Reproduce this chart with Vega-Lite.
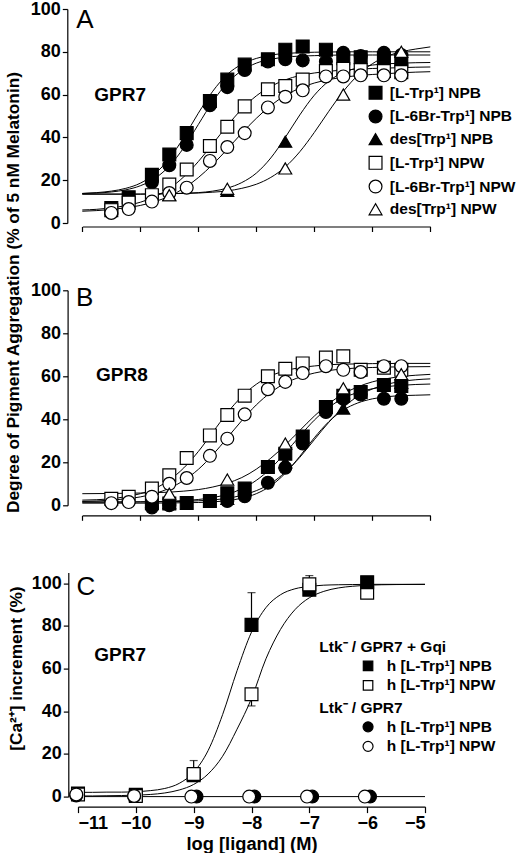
{
  "$schema": "https://vega.github.io/schema/vega-lite/v6.json",
  "padding": {"left": 4, "top": 0, "right": 0, "bottom": 0},
  "background": "white",
  "bounds": "flush",
  "spacing": 67.3,
  "config": {
    "view": {"stroke": null},
    "font": "Liberation Sans",
    "axis": {"labelFont": "Liberation Sans", "labelFontWeight": "bold", "labelFontSize": 18, "labelColor": "black", "titleFont": "Liberation Sans", "titleFontWeight": "bold", "titleFontSize": 17.3, "titleColor": "black", "domainColor": "black", "domainWidth": 1.2, "tickColor": "black", "tickWidth": 1.2, "grid": false, "labelOverlap": false},
    "legend": {"labelFont": "Liberation Sans", "labelFontWeight": "bold", "labelFontSize": 15.5, "labelColor": "black", "titleFont": "Liberation Sans", "titleFontWeight": "bold", "titleFontSize": 15.5, "titleColor": "black", "symbolStrokeColor": "black", "symbolStrokeWidth": 1.2, "symbolSize": 165, "padding": 0, "labelLimit": 300, "titleLimit": 300}
  },
  "datasets": {
    "ptsA": [
      {"s": "[L-Trp¹] NPB", "x": -11, "y": 7}, {"s": "[L-Trp¹] NPB", "x": -10.7, "y": 12}, {"s": "[L-Trp¹] NPB", "x": -10.3, "y": 22.5}, {"s": "[L-Trp¹] NPB", "x": -10, "y": 32}, {"s": "[L-Trp¹] NPB", "x": -9.7, "y": 42}, {"s": "[L-Trp¹] NPB", "x": -9.3, "y": 57}, {"s": "[L-Trp¹] NPB", "x": -9, "y": 67}, {"s": "[L-Trp¹] NPB", "x": -8.7, "y": 74}, {"s": "[L-Trp¹] NPB", "x": -8.3, "y": 76.5}, {"s": "[L-Trp¹] NPB", "x": -8, "y": 81}, {"s": "[L-Trp¹] NPB", "x": -7.7, "y": 82.5}, {"s": "[L-Trp¹] NPB", "x": -7.3, "y": 81}, {"s": "[L-Trp¹] NPB", "x": -7, "y": 77}, {"s": "[L-Trp¹] NPB", "x": -6.7, "y": 77.5}, {"s": "[L-Trp¹] NPB", "x": -6.3, "y": 77}, {"s": "[L-Trp¹] NPB", "x": -6, "y": 76},
      {"s": "[L-6Br-Trp¹] NPB", "x": -10.3, "y": 19}, {"s": "[L-6Br-Trp¹] NPB", "x": -10, "y": 27}, {"s": "[L-6Br-Trp¹] NPB", "x": -9.7, "y": 36.5}, {"s": "[L-6Br-Trp¹] NPB", "x": -9.3, "y": 55}, {"s": "[L-6Br-Trp¹] NPB", "x": -9, "y": 63.5}, {"s": "[L-6Br-Trp¹] NPB", "x": -8.7, "y": 71.5}, {"s": "[L-6Br-Trp¹] NPB", "x": -8.3, "y": 75.5}, {"s": "[L-6Br-Trp¹] NPB", "x": -8, "y": 76.5}, {"s": "[L-6Br-Trp¹] NPB", "x": -7.7, "y": 76}, {"s": "[L-6Br-Trp¹] NPB", "x": -7.3, "y": 75.5}, {"s": "[L-6Br-Trp¹] NPB", "x": -7, "y": 79.5}, {"s": "[L-6Br-Trp¹] NPB", "x": -6.7, "y": 78}, {"s": "[L-6Br-Trp¹] NPB", "x": -6.3, "y": 79.5}, {"s": "[L-6Br-Trp¹] NPB", "x": -6, "y": 78.5},
      {"s": "des[Trp¹] NPB", "x": -10, "y": 13}, {"s": "des[Trp¹] NPB", "x": -9, "y": 15}, {"s": "des[Trp¹] NPB", "x": -8, "y": 38}, {"s": "des[Trp¹] NPB", "x": -7, "y": 74}, {"s": "des[Trp¹] NPB", "x": -6, "y": 77},
      {"s": "[L-Trp¹] NPW", "x": -11, "y": 6}, {"s": "[L-Trp¹] NPW", "x": -10.7, "y": 9.5}, {"s": "[L-Trp¹] NPW", "x": -10.3, "y": 13}, {"s": "[L-Trp¹] NPW", "x": -10, "y": 18}, {"s": "[L-Trp¹] NPW", "x": -9.7, "y": 25}, {"s": "[L-Trp¹] NPW", "x": -9.3, "y": 36}, {"s": "[L-Trp¹] NPW", "x": -9, "y": 45}, {"s": "[L-Trp¹] NPW", "x": -8.7, "y": 54.5}, {"s": "[L-Trp¹] NPW", "x": -8.3, "y": 62.5}, {"s": "[L-Trp¹] NPW", "x": -8, "y": 64}, {"s": "[L-Trp¹] NPW", "x": -7.7, "y": 67}, {"s": "[L-Trp¹] NPW", "x": -7.3, "y": 71}, {"s": "[L-Trp¹] NPW", "x": -7, "y": 72}, {"s": "[L-Trp¹] NPW", "x": -6.7, "y": 71.5}, {"s": "[L-Trp¹] NPW", "x": -6.3, "y": 71}, {"s": "[L-Trp¹] NPW", "x": -6, "y": 70.5},
      {"s": "[L-6Br-Trp¹] NPW", "x": -11, "y": 4.7}, {"s": "[L-6Br-Trp¹] NPW", "x": -10.7, "y": 6.5}, {"s": "[L-6Br-Trp¹] NPW", "x": -10.3, "y": 10}, {"s": "[L-6Br-Trp¹] NPW", "x": -10, "y": 14}, {"s": "[L-6Br-Trp¹] NPW", "x": -9.7, "y": 16.5}, {"s": "[L-6Br-Trp¹] NPW", "x": -9.3, "y": 29}, {"s": "[L-6Br-Trp¹] NPW", "x": -9, "y": 35.5}, {"s": "[L-6Br-Trp¹] NPW", "x": -8.7, "y": 42}, {"s": "[L-6Br-Trp¹] NPW", "x": -8.3, "y": 54}, {"s": "[L-6Br-Trp¹] NPW", "x": -8, "y": 59}, {"s": "[L-6Br-Trp¹] NPW", "x": -7.7, "y": 62}, {"s": "[L-6Br-Trp¹] NPW", "x": -7.3, "y": 68.5}, {"s": "[L-6Br-Trp¹] NPW", "x": -7, "y": 68.5}, {"s": "[L-6Br-Trp¹] NPW", "x": -6.7, "y": 69}, {"s": "[L-6Br-Trp¹] NPW", "x": -6.3, "y": 69}, {"s": "[L-6Br-Trp¹] NPW", "x": -6, "y": 69},
      {"s": "des[Trp¹] NPW", "x": -10, "y": 13}, {"s": "des[Trp¹] NPW", "x": -9, "y": 16}, {"s": "des[Trp¹] NPW", "x": -8, "y": 25.5}, {"s": "des[Trp¹] NPW", "x": -7, "y": 60}, {"s": "des[Trp¹] NPW", "x": -6, "y": 80}
    ],
    "ptsB": [
      {"s": "[L-Trp¹] NPB", "x": -10.3, "y": 1}, {"s": "[L-Trp¹] NPB", "x": -10, "y": 0.8}, {"s": "[L-Trp¹] NPB", "x": -9.7, "y": 1.1}, {"s": "[L-Trp¹] NPB", "x": -9.3, "y": 2}, {"s": "[L-Trp¹] NPB", "x": -9, "y": 5.6}, {"s": "[L-Trp¹] NPB", "x": -8.7, "y": 7.8}, {"s": "[L-Trp¹] NPB", "x": -8.3, "y": 17.8}, {"s": "[L-Trp¹] NPB", "x": -8, "y": 24}, {"s": "[L-Trp¹] NPB", "x": -7.7, "y": 32}, {"s": "[L-Trp¹] NPB", "x": -7.3, "y": 45.7}, {"s": "[L-Trp¹] NPB", "x": -7, "y": 51}, {"s": "[L-Trp¹] NPB", "x": -6.7, "y": 52.7}, {"s": "[L-Trp¹] NPB", "x": -6.3, "y": 56}, {"s": "[L-Trp¹] NPB", "x": -6, "y": 55.5},
      {"s": "[L-6Br-Trp¹] NPB", "x": -10.3, "y": -1}, {"s": "[L-6Br-Trp¹] NPB", "x": -10, "y": 0}, {"s": "[L-6Br-Trp¹] NPB", "x": -9, "y": 2}, {"s": "[L-6Br-Trp¹] NPB", "x": -8.7, "y": 4.2}, {"s": "[L-6Br-Trp¹] NPB", "x": -8.3, "y": 10.5}, {"s": "[L-6Br-Trp¹] NPB", "x": -8, "y": 17.5}, {"s": "[L-6Br-Trp¹] NPB", "x": -7.7, "y": 28.7}, {"s": "[L-6Br-Trp¹] NPB", "x": -7.3, "y": 43.4}, {"s": "[L-6Br-Trp¹] NPB", "x": -7, "y": 49.6}, {"s": "[L-6Br-Trp¹] NPB", "x": -6.7, "y": 51.5}, {"s": "[L-6Br-Trp¹] NPB", "x": -6.3, "y": 49.6}, {"s": "[L-6Br-Trp¹] NPB", "x": -6, "y": 49.6},
      {"s": "des[Trp¹] NPB", "x": -10, "y": 1}, {"s": "des[Trp¹] NPB", "x": -9, "y": 3}, {"s": "des[Trp¹] NPB", "x": -8, "y": 20}, {"s": "des[Trp¹] NPB", "x": -7, "y": 45}, {"s": "des[Trp¹] NPB", "x": -6, "y": 57},
      {"s": "[L-Trp¹] NPW", "x": -11, "y": 3}, {"s": "[L-Trp¹] NPW", "x": -10.7, "y": 4}, {"s": "[L-Trp¹] NPW", "x": -10.3, "y": 7.8}, {"s": "[L-Trp¹] NPW", "x": -10, "y": 14}, {"s": "[L-Trp¹] NPW", "x": -9.7, "y": 22}, {"s": "[L-Trp¹] NPW", "x": -9.3, "y": 32.5}, {"s": "[L-Trp¹] NPW", "x": -9, "y": 42}, {"s": "[L-Trp¹] NPW", "x": -8.7, "y": 51}, {"s": "[L-Trp¹] NPW", "x": -8.3, "y": 60}, {"s": "[L-Trp¹] NPW", "x": -8, "y": 63.5}, {"s": "[L-Trp¹] NPW", "x": -7.7, "y": 66}, {"s": "[L-Trp¹] NPW", "x": -7.3, "y": 68.7}, {"s": "[L-Trp¹] NPW", "x": -7, "y": 69.3}, {"s": "[L-Trp¹] NPW", "x": -6.7, "y": 63}, {"s": "[L-Trp¹] NPW", "x": -6.3, "y": 64}, {"s": "[L-Trp¹] NPW", "x": -6, "y": 63},
      {"s": "[L-6Br-Trp¹] NPW", "x": -11, "y": 1}, {"s": "[L-6Br-Trp¹] NPW", "x": -10.7, "y": 1.5}, {"s": "[L-6Br-Trp¹] NPW", "x": -10.3, "y": 4}, {"s": "[L-6Br-Trp¹] NPW", "x": -10, "y": 10}, {"s": "[L-6Br-Trp¹] NPW", "x": -9.7, "y": 12.7}, {"s": "[L-6Br-Trp¹] NPW", "x": -9.3, "y": 23}, {"s": "[L-6Br-Trp¹] NPW", "x": -9, "y": 31}, {"s": "[L-6Br-Trp¹] NPW", "x": -8.7, "y": 42.3}, {"s": "[L-6Br-Trp¹] NPW", "x": -8.3, "y": 54}, {"s": "[L-6Br-Trp¹] NPW", "x": -8, "y": 57.4}, {"s": "[L-6Br-Trp¹] NPW", "x": -7.7, "y": 61.5}, {"s": "[L-6Br-Trp¹] NPW", "x": -7.3, "y": 64.7}, {"s": "[L-6Br-Trp¹] NPW", "x": -7, "y": 63}, {"s": "[L-6Br-Trp¹] NPW", "x": -6.7, "y": 62}, {"s": "[L-6Br-Trp¹] NPW", "x": -6.3, "y": 64.7}, {"s": "[L-6Br-Trp¹] NPW", "x": -6, "y": 64.7},
      {"s": "des[Trp¹] NPW", "x": -10, "y": 5.4}, {"s": "des[Trp¹] NPW", "x": -9, "y": 12}, {"s": "des[Trp¹] NPW", "x": -8, "y": 28.7}, {"s": "des[Trp¹] NPW", "x": -7, "y": 54.4}, {"s": "des[Trp¹] NPW", "x": -6, "y": 61}
    ],
    "curA": [
      {"c": "a1", "x": -11.5, "y": 13.8}, {"c": "a1", "x": -11.25, "y": 14.2}, {"c": "a1", "x": -11, "y": 14.9}, {"c": "a1", "x": -10.75, "y": 16.2}, {"c": "a1", "x": -10.5, "y": 18.6}, {"c": "a1", "x": -10.25, "y": 23}, {"c": "a1", "x": -10, "y": 30.1}, {"c": "a1", "x": -9.75, "y": 40}, {"c": "a1", "x": -9.5, "y": 51.3}, {"c": "a1", "x": -9.25, "y": 61.6}, {"c": "a1", "x": -9, "y": 69.4}, {"c": "a1", "x": -8.75, "y": 74.2}, {"c": "a1", "x": -8.5, "y": 76.9}, {"c": "a1", "x": -8.25, "y": 78.5}, {"c": "a1", "x": -8, "y": 79.2}, {"c": "a1", "x": -7.75, "y": 79.6}, {"c": "a1", "x": -7.5, "y": 79.8}, {"c": "a1", "x": -7.25, "y": 79.9}, {"c": "a1", "x": -7, "y": 80}, {"c": "a1", "x": -6.5, "y": 80}, {"c": "a1", "x": -6, "y": 80}, {"c": "a1", "x": -5.5, "y": 80},
      {"c": "a2", "x": -11.5, "y": 13.8}, {"c": "a2", "x": -11.25, "y": 14}, {"c": "a2", "x": -11, "y": 14.5}, {"c": "a2", "x": -10.75, "y": 15.5}, {"c": "a2", "x": -10.5, "y": 17.4}, {"c": "a2", "x": -10.25, "y": 20.8}, {"c": "a2", "x": -10, "y": 26.6}, {"c": "a2", "x": -9.75, "y": 35.2}, {"c": "a2", "x": -9.5, "y": 46}, {"c": "a2", "x": -9.25, "y": 56.8}, {"c": "a2", "x": -9, "y": 65.4}, {"c": "a2", "x": -8.75, "y": 71.2}, {"c": "a2", "x": -8.5, "y": 74.7}, {"c": "a2", "x": -8.25, "y": 76.5}, {"c": "a2", "x": -8, "y": 77.5}, {"c": "a2", "x": -7.75, "y": 78}, {"c": "a2", "x": -7.5, "y": 78.2}, {"c": "a2", "x": -7.25, "y": 78.4}, {"c": "a2", "x": -7, "y": 78.5}, {"c": "a2", "x": -6.5, "y": 78.5}, {"c": "a2", "x": -6, "y": 78.5}, {"c": "a2", "x": -5.5, "y": 78.5},
      {"c": "a3", "x": -11.5, "y": 13.5}, {"c": "a3", "x": -10.5, "y": 13.5}, {"c": "a3", "x": -10.25, "y": 13.6}, {"c": "a3", "x": -10, "y": 13.7}, {"c": "a3", "x": -9.75, "y": 13.9}, {"c": "a3", "x": -9.5, "y": 14.2}, {"c": "a3", "x": -9.25, "y": 14.9}, {"c": "a3", "x": -9, "y": 16.3}, {"c": "a3", "x": -8.75, "y": 18.9}, {"c": "a3", "x": -8.5, "y": 23.3}, {"c": "a3", "x": -8.25, "y": 30.4}, {"c": "a3", "x": -8, "y": 40}, {"c": "a3", "x": -7.75, "y": 50.5}, {"c": "a3", "x": -7.5, "y": 59.7}, {"c": "a3", "x": -7.25, "y": 66.3}, {"c": "a3", "x": -7, "y": 70.3}, {"c": "a3", "x": -6.75, "y": 72.5}, {"c": "a3", "x": -6.5, "y": 73.8}, {"c": "a3", "x": -6.25, "y": 74.4}, {"c": "a3", "x": -6, "y": 74.7}, {"c": "a3", "x": -5.75, "y": 74.9}, {"c": "a3", "x": -5.5, "y": 75},
      {"c": "a4", "x": -11.5, "y": 6.1}, {"c": "a4", "x": -11.25, "y": 6.4}, {"c": "a4", "x": -11, "y": 7.1}, {"c": "a4", "x": -10.75, "y": 8.1}, {"c": "a4", "x": -10.5, "y": 9.7}, {"c": "a4", "x": -10.25, "y": 12.3}, {"c": "a4", "x": -10, "y": 16.1}, {"c": "a4", "x": -9.75, "y": 21.6}, {"c": "a4", "x": -9.5, "y": 28.7}, {"c": "a4", "x": -9.25, "y": 37}, {"c": "a4", "x": -9, "y": 45.5}, {"c": "a4", "x": -8.75, "y": 53.2}, {"c": "a4", "x": -8.5, "y": 59.4}, {"c": "a4", "x": -8.25, "y": 63.8}, {"c": "a4", "x": -8, "y": 66.9}, {"c": "a4", "x": -7.75, "y": 68.9}, {"c": "a4", "x": -7.5, "y": 70.1}, {"c": "a4", "x": -7.25, "y": 70.9}, {"c": "a4", "x": -7, "y": 71.5}, {"c": "a4", "x": -6.75, "y": 71.9}, {"c": "a4", "x": -6.5, "y": 72.2}, {"c": "a4", "x": -6.25, "y": 72.4}, {"c": "a4", "x": -6, "y": 72.6}, {"c": "a4", "x": -5.75, "y": 72.8}, {"c": "a4", "x": -5.5, "y": 72.9},
      {"c": "a5", "x": -11.5, "y": 5.5}, {"c": "a5", "x": -11.25, "y": 5.8}, {"c": "a5", "x": -11, "y": 6.3}, {"c": "a5", "x": -10.75, "y": 7.1}, {"c": "a5", "x": -10.5, "y": 8.2}, {"c": "a5", "x": -10.25, "y": 10}, {"c": "a5", "x": -10, "y": 12.5}, {"c": "a5", "x": -9.75, "y": 16.2}, {"c": "a5", "x": -9.5, "y": 21.2}, {"c": "a5", "x": -9.25, "y": 27.4}, {"c": "a5", "x": -9, "y": 34.5}, {"c": "a5", "x": -8.75, "y": 42}, {"c": "a5", "x": -8.5, "y": 48.9}, {"c": "a5", "x": -8.25, "y": 54.9}, {"c": "a5", "x": -8, "y": 59.6}, {"c": "a5", "x": -7.75, "y": 63}, {"c": "a5", "x": -7.5, "y": 65.4}, {"c": "a5", "x": -7.25, "y": 67}, {"c": "a5", "x": -7, "y": 68.1}, {"c": "a5", "x": -6.75, "y": 68.9}, {"c": "a5", "x": -6.5, "y": 69.4}, {"c": "a5", "x": -6.25, "y": 69.8}, {"c": "a5", "x": -6, "y": 70.2}, {"c": "a5", "x": -5.75, "y": 70.5}, {"c": "a5", "x": -5.5, "y": 70.7},
      {"c": "a6", "x": -11.5, "y": 13.5}, {"c": "a6", "x": -10.5, "y": 13.5}, {"c": "a6", "x": -10.25, "y": 13.6}, {"c": "a6", "x": -10, "y": 13.7}, {"c": "a6", "x": -9.75, "y": 13.8}, {"c": "a6", "x": -9.5, "y": 14}, {"c": "a6", "x": -9.25, "y": 14.4}, {"c": "a6", "x": -9, "y": 15}, {"c": "a6", "x": -8.75, "y": 16.2}, {"c": "a6", "x": -8.5, "y": 18.1}, {"c": "a6", "x": -8.25, "y": 21.3}, {"c": "a6", "x": -8, "y": 26.2}, {"c": "a6", "x": -7.75, "y": 33.3}, {"c": "a6", "x": -7.5, "y": 42.3}, {"c": "a6", "x": -7.25, "y": 52.2}, {"c": "a6", "x": -7, "y": 61.5}, {"c": "a6", "x": -6.75, "y": 69}, {"c": "a6", "x": -6.5, "y": 74.4}, {"c": "a6", "x": -6.25, "y": 77.9}, {"c": "a6", "x": -6, "y": 80}, {"c": "a6", "x": -5.75, "y": 81.3}, {"c": "a6", "x": -5.5, "y": 82.3}
    ],
    "curB": [
      {"c": "b1", "x": -11.5, "y": 2.4}, {"c": "b1", "x": -11.25, "y": 2.6}, {"c": "b1", "x": -11, "y": 3.1}, {"c": "b1", "x": -10.75, "y": 4}, {"c": "b1", "x": -10.5, "y": 5.4}, {"c": "b1", "x": -10.25, "y": 7.8}, {"c": "b1", "x": -10, "y": 11.7}, {"c": "b1", "x": -9.75, "y": 17.4}, {"c": "b1", "x": -9.5, "y": 25}, {"c": "b1", "x": -9.25, "y": 34}, {"c": "b1", "x": -9, "y": 43}, {"c": "b1", "x": -8.75, "y": 50.6}, {"c": "b1", "x": -8.5, "y": 56.3}, {"c": "b1", "x": -8.25, "y": 60.2}, {"c": "b1", "x": -8, "y": 62.6}, {"c": "b1", "x": -7.75, "y": 64}, {"c": "b1", "x": -7.5, "y": 64.8}, {"c": "b1", "x": -7.25, "y": 65.4}, {"c": "b1", "x": -7, "y": 65.6}, {"c": "b1", "x": -6.75, "y": 65.8}, {"c": "b1", "x": -6.5, "y": 65.9}, {"c": "b1", "x": -6, "y": 66}, {"c": "b1", "x": -5.5, "y": 66},
      {"c": "b2", "x": -11.5, "y": 1.8}, {"c": "b2", "x": -11.25, "y": 2}, {"c": "b2", "x": -11, "y": 2.4}, {"c": "b2", "x": -10.75, "y": 3}, {"c": "b2", "x": -10.5, "y": 3.9}, {"c": "b2", "x": -10.25, "y": 5.5}, {"c": "b2", "x": -10, "y": 7.9}, {"c": "b2", "x": -9.75, "y": 11.6}, {"c": "b2", "x": -9.5, "y": 16.7}, {"c": "b2", "x": -9.25, "y": 23.5}, {"c": "b2", "x": -9, "y": 31.4}, {"c": "b2", "x": -8.75, "y": 39.4}, {"c": "b2", "x": -8.5, "y": 46.7}, {"c": "b2", "x": -8.25, "y": 52.5}, {"c": "b2", "x": -8, "y": 56.8}, {"c": "b2", "x": -7.75, "y": 59.6}, {"c": "b2", "x": -7.5, "y": 61.5}, {"c": "b2", "x": -7.25, "y": 62.7}, {"c": "b2", "x": -7, "y": 63.4}, {"c": "b2", "x": -6.75, "y": 63.9}, {"c": "b2", "x": -6.5, "y": 64.1}, {"c": "b2", "x": -6.25, "y": 64.3}, {"c": "b2", "x": -6, "y": 64.4}, {"c": "b2", "x": -5.5, "y": 64.5},
      {"c": "b3", "x": -11.5, "y": 5.4}, {"c": "b3", "x": -11, "y": 5.5}, {"c": "b3", "x": -10.5, "y": 5.7}, {"c": "b3", "x": -10.25, "y": 5.9}, {"c": "b3", "x": -10, "y": 6.1}, {"c": "b3", "x": -9.75, "y": 6.6}, {"c": "b3", "x": -9.5, "y": 7.3}, {"c": "b3", "x": -9.25, "y": 8.5}, {"c": "b3", "x": -9, "y": 10.3}, {"c": "b3", "x": -8.75, "y": 12.9}, {"c": "b3", "x": -8.5, "y": 16.8}, {"c": "b3", "x": -8.25, "y": 21.9}, {"c": "b3", "x": -8, "y": 28}, {"c": "b3", "x": -7.75, "y": 34.8}, {"c": "b3", "x": -7.5, "y": 41.5}, {"c": "b3", "x": -7.25, "y": 47.3}, {"c": "b3", "x": -7, "y": 51.8}, {"c": "b3", "x": -6.75, "y": 55.1}, {"c": "b3", "x": -6.5, "y": 57.4}, {"c": "b3", "x": -6.25, "y": 58.9}, {"c": "b3", "x": -6, "y": 59.9}, {"c": "b3", "x": -5.75, "y": 60.5}, {"c": "b3", "x": -5.5, "y": 60.9},
      {"c": "b4", "x": -11.5, "y": 1.5}, {"c": "b4", "x": -10.75, "y": 1.5}, {"c": "b4", "x": -10.5, "y": 1.6}, {"c": "b4", "x": -10.25, "y": 1.6}, {"c": "b4", "x": -10, "y": 1.7}, {"c": "b4", "x": -9.75, "y": 1.8}, {"c": "b4", "x": -9.5, "y": 2.1}, {"c": "b4", "x": -9.25, "y": 2.5}, {"c": "b4", "x": -9, "y": 3.3}, {"c": "b4", "x": -8.75, "y": 4.6}, {"c": "b4", "x": -8.5, "y": 6.8}, {"c": "b4", "x": -8.25, "y": 10.2}, {"c": "b4", "x": -8, "y": 15.4}, {"c": "b4", "x": -7.75, "y": 22.3}, {"c": "b4", "x": -7.5, "y": 30.5}, {"c": "b4", "x": -7.25, "y": 38.6}, {"c": "b4", "x": -7, "y": 45.5}, {"c": "b4", "x": -6.75, "y": 50.7}, {"c": "b4", "x": -6.5, "y": 54.1}, {"c": "b4", "x": -6.25, "y": 56.3}, {"c": "b4", "x": -6, "y": 57.6}, {"c": "b4", "x": -5.75, "y": 58.4}, {"c": "b4", "x": -5.5, "y": 58.8},
      {"c": "b5", "x": -11.5, "y": 1.5}, {"c": "b5", "x": -11, "y": 1.5}, {"c": "b5", "x": -10.75, "y": 1.6}, {"c": "b5", "x": -10.5, "y": 1.6}, {"c": "b5", "x": -10.25, "y": 1.7}, {"c": "b5", "x": -10, "y": 1.9}, {"c": "b5", "x": -9.75, "y": 2.2}, {"c": "b5", "x": -9.5, "y": 2.7}, {"c": "b5", "x": -9.25, "y": 3.6}, {"c": "b5", "x": -9, "y": 5.1}, {"c": "b5", "x": -8.75, "y": 7.7}, {"c": "b5", "x": -8.5, "y": 11.6}, {"c": "b5", "x": -8.25, "y": 17.2}, {"c": "b5", "x": -8, "y": 24.4}, {"c": "b5", "x": -7.75, "y": 32.2}, {"c": "b5", "x": -7.5, "y": 39.6}, {"c": "b5", "x": -7.25, "y": 45.5}, {"c": "b5", "x": -7, "y": 49.8}, {"c": "b5", "x": -6.75, "y": 52.5}, {"c": "b5", "x": -6.5, "y": 54.2}, {"c": "b5", "x": -6.25, "y": 55.2}, {"c": "b5", "x": -6, "y": 55.8}, {"c": "b5", "x": -5.75, "y": 56.2}, {"c": "b5", "x": -5.5, "y": 56.4},
      {"c": "b6", "x": -11.5, "y": 1}, {"c": "b6", "x": -10.25, "y": 1}, {"c": "b6", "x": -10, "y": 1.1}, {"c": "b6", "x": -9.75, "y": 1.2}, {"c": "b6", "x": -9.5, "y": 1.3}, {"c": "b6", "x": -9.25, "y": 1.6}, {"c": "b6", "x": -9, "y": 2.2}, {"c": "b6", "x": -8.75, "y": 3.3}, {"c": "b6", "x": -8.5, "y": 5.4}, {"c": "b6", "x": -8.25, "y": 9.1}, {"c": "b6", "x": -8, "y": 14.9}, {"c": "b6", "x": -7.75, "y": 22.8}, {"c": "b6", "x": -7.5, "y": 31.4}, {"c": "b6", "x": -7.25, "y": 38.9}, {"c": "b6", "x": -7, "y": 44.3}, {"c": "b6", "x": -6.75, "y": 47.6}, {"c": "b6", "x": -6.5, "y": 49.5}, {"c": "b6", "x": -6.25, "y": 50.5}, {"c": "b6", "x": -6, "y": 51}, {"c": "b6", "x": -5.75, "y": 51.2}, {"c": "b6", "x": -5.5, "y": 51.4}
    ],
    "curC": [
      {"c": "c1", "x": -11, "y": 2}, {"c": "c1", "x": -10.75, "y": 2}, {"c": "c1", "x": -10.5, "y": 2.1}, {"c": "c1", "x": -10.25, "y": 2.1}, {"c": "c1", "x": -10, "y": 2.3}, {"c": "c1", "x": -9.75, "y": 2.8}, {"c": "c1", "x": -9.5, "y": 3.8}, {"c": "c1", "x": -9.25, "y": 6.2}, {"c": "c1", "x": -9, "y": 11.4}, {"c": "c1", "x": -8.75, "y": 21.6}, {"c": "c1", "x": -8.5, "y": 38.4}, {"c": "c1", "x": -8.25, "y": 59}, {"c": "c1", "x": -8, "y": 77.1}, {"c": "c1", "x": -7.75, "y": 88.6}, {"c": "c1", "x": -7.5, "y": 94.6}, {"c": "c1", "x": -7.25, "y": 97.4}, {"c": "c1", "x": -7, "y": 98.5}, {"c": "c1", "x": -6.75, "y": 99.1}, {"c": "c1", "x": -6.5, "y": 99.3}, {"c": "c1", "x": -6.25, "y": 99.4}, {"c": "c1", "x": -6, "y": 99.5}, {"c": "c1", "x": -5, "y": 99.5},
      {"c": "c2", "x": -11, "y": 0.3}, {"c": "c2", "x": -10.75, "y": 0.3}, {"c": "c2", "x": -10.5, "y": 0.4}, {"c": "c2", "x": -10.25, "y": 0.5}, {"c": "c2", "x": -10, "y": 0.7}, {"c": "c2", "x": -9.75, "y": 1}, {"c": "c2", "x": -9.5, "y": 1.7}, {"c": "c2", "x": -9.25, "y": 3.1}, {"c": "c2", "x": -9, "y": 5.7}, {"c": "c2", "x": -8.75, "y": 10.6}, {"c": "c2", "x": -8.5, "y": 18.9}, {"c": "c2", "x": -8.25, "y": 31.6}, {"c": "c2", "x": -8, "y": 46}, {"c": "c2", "x": -7.75, "y": 64.6}, {"c": "c2", "x": -7.5, "y": 78.3}, {"c": "c2", "x": -7.25, "y": 87.6}, {"c": "c2", "x": -7, "y": 93.2}, {"c": "c2", "x": -6.75, "y": 96.2}, {"c": "c2", "x": -6.5, "y": 97.8}, {"c": "c2", "x": -6.25, "y": 98.6}, {"c": "c2", "x": -6, "y": 99.1}, {"c": "c2", "x": -5.75, "y": 99.3}, {"c": "c2", "x": -5.5, "y": 99.4}, {"c": "c2", "x": -5, "y": 99.5},
      {"c": "c3", "x": -11, "y": 0}, {"c": "c3", "x": -5, "y": 0}
    ],
    "errC": [
      {"x": -9, "y": 10.6, "end": 16.9},
      {"x": -8, "y": 80.5, "end": 95.6},
      {"x": -8, "y": 48, "end": 42.5},
      {"x": -7, "y": 99.5, "end": 103.6}
    ],
    "ptsC": [
      {"g": "Gqi", "p": "h [L-Trp¹] NPB", "x": -11, "y": 1.5},
      {"g": "Gqi", "p": "h [L-Trp¹] NPB", "x": -10, "y": 0.8},
      {"g": "Gqi", "p": "h [L-Trp¹] NPB", "x": -9, "y": 10},
      {"g": "Gqi", "p": "h [L-Trp¹] NPB", "x": -8, "y": 80.5},
      {"g": "Gqi", "p": "h [L-Trp¹] NPB", "x": -7, "y": 97},
      {"g": "Gqi", "p": "h [L-Trp¹] NPW", "x": -11, "y": 1},
      {"g": "Gqi", "p": "h [L-Trp¹] NPW", "x": -10, "y": 0.3},
      {"g": "Gqi", "p": "h [L-Trp¹] NPW", "x": -9, "y": 10.6},
      {"g": "Gqi", "p": "h [L-Trp¹] NPW", "x": -8, "y": 48},
      {"g": "Gqi", "p": "h [L-Trp¹] NPW", "x": -7, "y": 99.5},
      {"g": "Gqi", "p": "h [L-Trp¹] NPW", "x": -6, "y": 95.6},
      {"g": "Gqi", "p": "h [L-Trp¹] NPB", "x": -6, "y": 100.5},
      {"g": "GPR7", "p": "h [L-Trp¹] NPB", "x": -11.03, "y": 0.5},
      {"g": "GPR7", "p": "h [L-Trp¹] NPB", "x": -10.03, "y": 0.3},
      {"g": "GPR7", "p": "h [L-Trp¹] NPB", "x": -8.95, "y": 0},
      {"g": "GPR7", "p": "h [L-Trp¹] NPB", "x": -7.95, "y": 0},
      {"g": "GPR7", "p": "h [L-Trp¹] NPB", "x": -6.95, "y": 0},
      {"g": "GPR7", "p": "h [L-Trp¹] NPB", "x": -5.95, "y": 0},
      {"g": "GPR7", "p": "h [L-Trp¹] NPW", "x": -11.03, "y": 1},
      {"g": "GPR7", "p": "h [L-Trp¹] NPW", "x": -10.03, "y": 0.3},
      {"g": "GPR7", "p": "h [L-Trp¹] NPW", "x": -9.04, "y": 0},
      {"g": "GPR7", "p": "h [L-Trp¹] NPW", "x": -8.04, "y": 0},
      {"g": "GPR7", "p": "h [L-Trp¹] NPW", "x": -7.04, "y": 0},
      {"g": "GPR7", "p": "h [L-Trp¹] NPW", "x": -6.04, "y": 0}
    ]
  },
  "vconcat": [
    {
      "width": 352,
      "height": 214,
      "layer": [
        {
          "data": {"name": "curA"},
          "mark": {"type": "line", "color": "black", "strokeWidth": 1, "interpolate": "monotone"},
          "encoding": {
            "x": {"field": "x", "type": "quantitative", "scale": {"domain": [-11.5, -5.5], "range": [4.3, 352.3], "nice": false, "zero": false},
              "axis": {"values": [-11.5, -11, -10.5, -10, -9.5, -9, -8.5, -8, -7.5, -7, -6.5, -6, -5.5], "labelExpr": "datum.value % 1 == 0 ? format(datum.value, 'd') : ''", "title": null, "offset": 3.5, "tickSize": 5, "labelPadding": 3}},
            "y": {"field": "y", "type": "quantitative", "scale": {"domain": [0, 100], "nice": false},
              "axis": {"values": [0, 5, 10, 15, 20, 25, 30, 35, 40, 45, 50, 55, 60, 65, 70, 75, 80, 85, 90, 95, 100], "labelExpr": "datum.value % 20 == 0 ? format(datum.value, 'd') : ''", "title": "Degree of Pigment Aggregation (% of 5 nM Melatonin)", "titleX": -45, "titleY": 283, "offset": 10.7, "tickSize": {"condition": {"test": "datum.value % 20 == 0", "value": 5}, "value": 3}, "labelPadding": 2}},
            "detail": {"field": "c", "type": "nominal"}
          }
        },
        {
          "data": {"name": "ptsA"},
          "mark": {"type": "point", "filled": true, "strokeWidth": 1.2, "size": 165, "opacity": 1},
          "encoding": {
            "x": {"field": "x", "type": "quantitative"},
            "y": {"field": "y", "type": "quantitative"},
            "shape": {"field": "s", "type": "nominal", "scale": {"domain": ["[L-Trp¹] NPB", "[L-6Br-Trp¹] NPB", "des[Trp¹] NPB", "[L-Trp¹] NPW", "[L-6Br-Trp¹] NPW", "des[Trp¹] NPW"], "range": ["square", "circle", "triangle-up", "square", "circle", "triangle-up"]},
              "legend": {"orient": "none", "legendX": 289.8, "legendY": 76, "title": null, "labelOffset": 6.5, "rowPadding": 4.7}},
            "fill": {"field": "s", "type": "nominal", "scale": {"domain": ["[L-Trp¹] NPB", "[L-6Br-Trp¹] NPB", "des[Trp¹] NPB", "[L-Trp¹] NPW", "[L-6Br-Trp¹] NPW", "des[Trp¹] NPW"], "range": ["black", "black", "black", "white", "white", "white"]},
              "legend": {"orient": "none", "legendX": 289.8, "legendY": 76, "title": null, "labelOffset": 6.5, "rowPadding": 4.7}},
            "stroke": {"field": "s", "type": "nominal", "scale": {"domain": ["[L-Trp¹] NPB", "[L-6Br-Trp¹] NPB", "des[Trp¹] NPB", "[L-Trp¹] NPW", "[L-6Br-Trp¹] NPW", "des[Trp¹] NPW"], "range": ["black", "black", "black", "black", "black", "black"]},
              "legend": {"orient": "none", "legendX": 289.8, "legendY": 76, "title": null, "labelOffset": 6.5, "rowPadding": 4.7}}
          }
        },
        {
          "data": {"values": [{}]},
          "mark": {"type": "text", "align": "left", "baseline": "middle", "fontSize": 26, "fontWeight": "normal", "font": "Liberation Sans", "color": "black"},
          "encoding": {"x": {"datum": -11.603, "type": "quantitative"}, "y": {"datum": 95, "type": "quantitative"}, "text": {"value": "A"}}
        },
        {
          "data": {"values": [{}]},
          "mark": {"type": "text", "align": "left", "baseline": "middle", "fontSize": 19, "fontWeight": "bold", "font": "Liberation Sans", "color": "black"},
          "encoding": {"x": {"datum": -11.293, "type": "quantitative"}, "y": {"datum": 59.8, "type": "quantitative"}, "text": {"value": "GPR7"}}
        }
      ]
    },
    {
      "width": 352,
      "height": 215,
      "layer": [
        {
          "data": {"name": "curB"},
          "mark": {"type": "line", "color": "black", "strokeWidth": 1, "interpolate": "monotone"},
          "encoding": {
            "x": {"field": "x", "type": "quantitative", "scale": {"domain": [-11.5, -5.5], "range": [4.3, 352.3], "nice": false, "zero": false},
              "axis": {"values": [-11.5, -11, -10.5, -10, -9.5, -9, -8.5, -8, -7.5, -7, -6.5, -6, -5.5], "labelExpr": "datum.value % 1 == 0 ? format(datum.value, 'd') : ''", "title": null, "offset": 10, "tickSize": 5, "labelPadding": 3}},
            "y": {"field": "y", "type": "quantitative", "scale": {"domain": [0, 100], "nice": false},
              "axis": {"values": [0, 5, 10, 15, 20, 25, 30, 35, 40, 45, 50, 55, 60, 65, 70, 75, 80, 85, 90, 95, 100], "labelExpr": "datum.value % 20 == 0 ? format(datum.value, 'd') : ''", "title": null, "offset": 10.4, "tickSize": {"condition": {"test": "datum.value % 20 == 0", "value": 5}, "value": 3}, "labelPadding": 2}},
            "detail": {"field": "c", "type": "nominal"}
          }
        },
        {
          "data": {"name": "ptsB"},
          "mark": {"type": "point", "filled": true, "stroke": "black", "strokeWidth": 1.2, "size": 165, "opacity": 1},
          "encoding": {
            "x": {"field": "x", "type": "quantitative"},
            "y": {"field": "y", "type": "quantitative"},
            "shape": {"field": "s", "type": "nominal", "scale": {"domain": ["[L-Trp¹] NPB", "[L-6Br-Trp¹] NPB", "des[Trp¹] NPB", "[L-Trp¹] NPW", "[L-6Br-Trp¹] NPW", "des[Trp¹] NPW"], "range": ["square", "circle", "triangle-up", "square", "circle", "triangle-up"]}, "legend": null},
            "fill": {"field": "s", "type": "nominal", "scale": {"domain": ["[L-Trp¹] NPB", "[L-6Br-Trp¹] NPB", "des[Trp¹] NPB", "[L-Trp¹] NPW", "[L-6Br-Trp¹] NPW", "des[Trp¹] NPW"], "range": ["black", "black", "black", "white", "white", "white"]}, "legend": null}
          }
        },
        {
          "data": {"values": [{}]},
          "mark": {"type": "text", "align": "left", "baseline": "middle", "fontSize": 26, "fontWeight": "normal", "font": "Liberation Sans", "color": "black"},
          "encoding": {"x": {"datum": -11.61, "type": "quantitative"}, "y": {"datum": 96.3, "type": "quantitative"}, "text": {"value": "B"}}
        },
        {
          "data": {"values": [{}]},
          "mark": {"type": "text", "align": "left", "baseline": "middle", "fontSize": 19, "fontWeight": "bold", "font": "Liberation Sans", "color": "black"},
          "encoding": {"x": {"datum": -11.264, "type": "quantitative"}, "y": {"datum": 60.7, "type": "quantitative"}, "text": {"value": "GPR8"}}
        }
      ]
    },
    {
      "width": 347,
      "height": 224,
      "resolve": {"scale": {"shape": "independent", "fill": "independent", "stroke": "independent"}, "legend": {"shape": "independent", "fill": "independent", "stroke": "independent"}},
      "layer": [
        {
          "data": {"name": "curC"},
          "mark": {"type": "line", "color": "black", "strokeWidth": 1, "interpolate": "monotone"},
          "encoding": {
            "x": {"field": "x", "type": "quantitative", "scale": {"domain": [-11, -5], "nice": false, "zero": false},
              "axis": {"values": [-11, -10, -9, -8, -7, -6, -5], "format": "d", "title": "log [ligand] (M)", "titleFontSize": 18.3, "offset": 10, "tickSize": 6, "labelPadding": 2, "titlePadding": 3}},
            "y": {"field": "y", "type": "quantitative", "scale": {"domain": [0, 105], "nice": false},
              "axis": {"values": [0, 5, 10, 15, 20, 25, 30, 35, 40, 45, 50, 55, 60, 65, 70, 75, 80, 85, 90, 95, 100], "labelExpr": "datum.value % 20 == 0 ? format(datum.value, 'd') : ''", "title": "[Ca²⁺] increment (%)", "titleX": -43, "titleY": 95.5, "offset": 9.7, "tickSize": {"condition": {"test": "datum.value % 20 == 0", "value": 5}, "value": 3}, "labelPadding": 2}},
            "detail": {"field": "c", "type": "nominal"}
          }
        },
        {
          "data": {"name": "errC"},
          "mark": {"type": "rule", "color": "black", "strokeWidth": 1.2},
          "encoding": {"x": {"field": "x", "type": "quantitative"}, "y": {"field": "y", "type": "quantitative"}, "y2": {"field": "end"}}
        },
        {
          "data": {"name": "errC"},
          "mark": {"type": "tick", "orient": "horizontal", "color": "black", "size": 8, "thickness": 1.2},
          "encoding": {"x": {"field": "x", "type": "quantitative"}, "y": {"field": "end", "type": "quantitative"}}
        },
        {
          "data": {"name": "ptsC"},
          "transform": [{"filter": "datum.g == 'Gqi'"}],
          "mark": {"type": "point", "filled": true, "strokeWidth": 1.2, "size": 165, "opacity": 1},
          "encoding": {
            "x": {"field": "x", "type": "quantitative"},
            "y": {"field": "y", "type": "quantitative"},
            "shape": {"field": "p", "type": "nominal", "scale": {"domain": ["h [L-Trp¹] NPB", "h [L-Trp¹] NPW"], "range": ["square", "square"]},
              "legend": {"orient": "none", "legendX": 241.3, "legendY": 67, "title": "Ltk⁻ / GPR7 + Gqi", "symbolSize": 90, "symbolOffset": 41, "labelOffset": 11, "rowPadding": 2.5, "titlePadding": 3}},
            "fill": {"field": "p", "type": "nominal", "scale": {"domain": ["h [L-Trp¹] NPB", "h [L-Trp¹] NPW"], "range": ["black", "white"]},
              "legend": {"orient": "none", "legendX": 241.3, "legendY": 67, "title": "Ltk⁻ / GPR7 + Gqi", "symbolSize": 90, "symbolOffset": 41, "labelOffset": 11, "rowPadding": 2.5, "titlePadding": 3}},
            "stroke": {"field": "p", "type": "nominal", "scale": {"domain": ["h [L-Trp¹] NPB", "h [L-Trp¹] NPW"], "range": ["black", "black"]},
              "legend": {"orient": "none", "legendX": 241.3, "legendY": 67, "title": "Ltk⁻ / GPR7 + Gqi", "symbolSize": 90, "symbolOffset": 41, "labelOffset": 11, "rowPadding": 2.5, "titlePadding": 3}}
          }
        },
        {
          "data": {"name": "ptsC"},
          "transform": [{"filter": "datum.g == 'GPR7'"}],
          "mark": {"type": "point", "filled": true, "strokeWidth": 1.2, "size": 165, "opacity": 1},
          "encoding": {
            "x": {"field": "x", "type": "quantitative"},
            "y": {"field": "y", "type": "quantitative"},
            "shape": {"field": "p", "type": "nominal", "scale": {"domain": ["h [L-Trp¹] NPB", "h [L-Trp¹] NPW"], "range": ["circle", "circle"]},
              "legend": {"orient": "none", "legendX": 241.3, "legendY": 128, "title": "Ltk⁻ / GPR7", "symbolSize": 100, "symbolOffset": 41, "labelOffset": 11, "rowPadding": 2.5, "titlePadding": 3}},
            "fill": {"field": "p", "type": "nominal", "scale": {"domain": ["h [L-Trp¹] NPB", "h [L-Trp¹] NPW"], "range": ["black", "white"]},
              "legend": {"orient": "none", "legendX": 241.3, "legendY": 128, "title": "Ltk⁻ / GPR7", "symbolSize": 100, "symbolOffset": 41, "labelOffset": 11, "rowPadding": 2.5, "titlePadding": 3}},
            "stroke": {"field": "p", "type": "nominal", "scale": {"domain": ["h [L-Trp¹] NPB", "h [L-Trp¹] NPW"], "range": ["black", "black"]},
              "legend": {"orient": "none", "legendX": 241.3, "legendY": 128, "title": "Ltk⁻ / GPR7", "symbolSize": 100, "symbolOffset": 41, "labelOffset": 11, "rowPadding": 2.5, "titlePadding": 3}}
          }
        },
        {
          "data": {"values": [{}]},
          "mark": {"type": "text", "align": "left", "baseline": "middle", "fontSize": 26, "fontWeight": "normal", "font": "Liberation Sans", "color": "black"},
          "encoding": {"x": {"datum": -11.024, "type": "quantitative"}, "y": {"datum": 98.3, "type": "quantitative"}, "text": {"value": "C"}}
        },
        {
          "data": {"values": [{}]},
          "mark": {"type": "text", "align": "left", "baseline": "middle", "fontSize": 19, "fontWeight": "bold", "font": "Liberation Sans", "color": "black"},
          "encoding": {"x": {"datum": -10.718, "type": "quantitative"}, "y": {"datum": 66.2, "type": "quantitative"}, "text": {"value": "GPR7"}}
        }
      ]
    }
  ]
}
